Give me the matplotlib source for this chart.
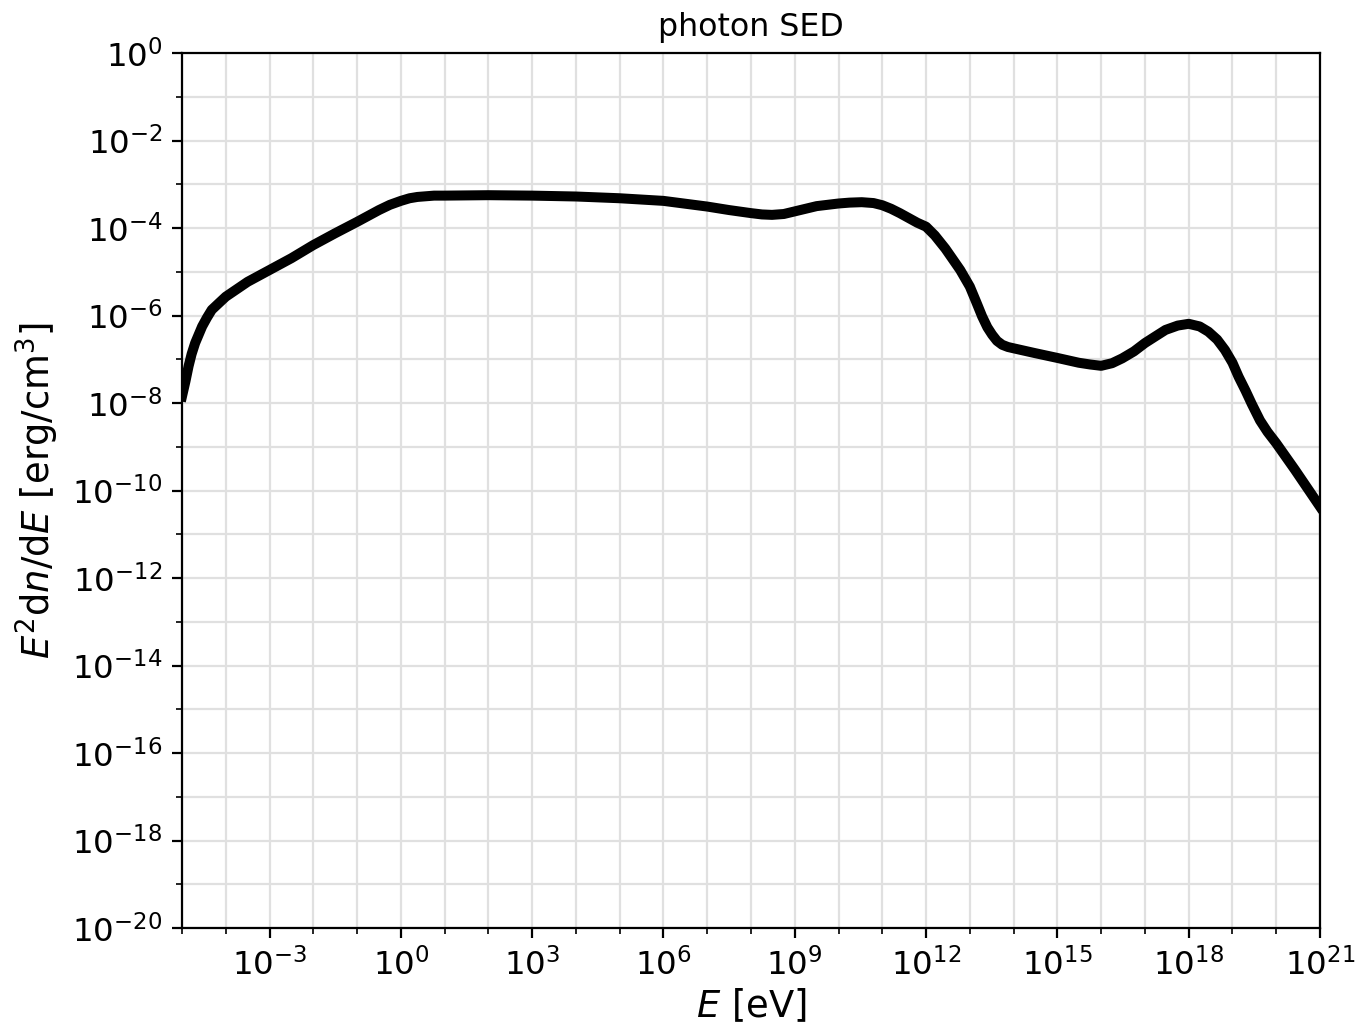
#photon SED (log-log)

#Importing required packages.
import numpy as np
import matplotlib
matplotlib.use("Agg")
import matplotlib.pyplot as plt
from matplotlib.ticker import FixedLocator, NullFormatter, LogFormatterSciNotation

#Curve, log10 of energy [eV] and log10 of E^2 dn/dE [erg/cm^3].
log_E = [-5.0, -4.92, -4.85, -4.78, -4.70, -4.54, -4.43, -4.32, -4.15, -4.0,
         -3.5, -3.0, -2.5, -2.0, -1.5, -1.0, -0.5, -0.25, 0.0, 0.2,
         0.38, 0.76, 1.0, 2.0, 3.0, 4.0, 5.0, 6.0, 7.0, 7.5,
         8.0, 8.25, 8.48, 8.75, 9.0, 9.25, 9.5, 10.0, 10.25, 10.53,
         10.8, 11.0, 11.2, 11.4, 11.6, 11.8, 12.0, 12.2, 12.44, 12.6,
         12.78, 13.0, 13.15, 13.28, 13.4, 13.51, 13.62, 13.74, 13.87, 14.0,
         14.49, 15.0, 15.49, 15.75, 16.0, 16.25, 16.48, 16.75, 17.0, 17.25,
         17.47, 17.75, 18.0, 18.25, 18.45, 18.65, 18.83, 19.0, 19.14, 19.3,
         19.44, 19.63, 19.8, 20.0, 20.43, 21.0]
log_sed = [-7.85, -7.50, -7.16, -6.88, -6.63, -6.25, -6.05, -5.87, -5.71, -5.57,
           -5.23, -4.96, -4.69, -4.39, -4.12, -3.86, -3.59, -3.47, -3.38, -3.32,
           -3.29, -3.26, -3.26, -3.25, -3.26, -3.28, -3.32, -3.38, -3.51, -3.59,
           -3.66, -3.69, -3.70, -3.68, -3.62, -3.56, -3.50, -3.44, -3.42, -3.41,
           -3.43, -3.48, -3.56, -3.66, -3.77, -3.88, -3.97, -4.17, -4.47, -4.70,
           -4.96, -5.34, -5.70, -6.02, -6.27, -6.44, -6.58, -6.67, -6.72, -6.75,
           -6.86, -6.97, -7.08, -7.12, -7.15, -7.09, -6.98, -6.82, -6.63, -6.47,
           -6.33, -6.23, -6.19, -6.25, -6.37, -6.55, -6.79, -7.08, -7.40, -7.72,
           -8.02, -8.40, -8.66, -8.92, -9.53, -10.37]

energy = 10.0 ** np.array(log_E)
sed = 10.0 ** np.array(log_sed)

#Tick positions (decades).
x_major = [-3, 0, 3, 6, 9, 12, 15, 18, 21]
y_major = list(range(-20, 1, 2))

#Figure size chosen to give ~1370x1036 pixels.
fig = plt.figure(figsize=(6.85, 5.18), dpi=200)
ax = fig.add_axes([182 / 1370, 1 - 928 / 1036, (1320 - 182) / 1370, (928 - 53) / 1036])

#Making the plot.
ax.plot(energy, sed, color="black", linewidth=3.6, solid_joinstyle="round")
ax.set_xscale("log")
ax.set_yscale("log")
ax.set_xlim(1e-5, 1e21)
ax.set_ylim(1e-20, 1e0)

#Ticks: labelled majors, unlabelled minors at the other decades.
ax.xaxis.set_major_locator(FixedLocator([10.0 ** d for d in x_major]))
ax.xaxis.set_minor_locator(FixedLocator([10.0 ** d for d in range(-5, 22) if d not in x_major]))
ax.yaxis.set_major_locator(FixedLocator([10.0 ** d for d in y_major]))
ax.yaxis.set_minor_locator(FixedLocator([10.0 ** d for d in range(-20, 1) if d not in y_major]))
ax.xaxis.set_major_formatter(LogFormatterSciNotation())
ax.yaxis.set_major_formatter(LogFormatterSciNotation())
ax.xaxis.set_minor_formatter(NullFormatter())
ax.yaxis.set_minor_formatter(NullFormatter())

#Labels and title.
ax.set_xlabel(r"$E$ [eV]", fontsize=13.3, labelpad=2)
ax.set_ylabel(r"$E^2\mathrm{d}n/\mathrm{d}E$ [erg/cm$^3$]", fontsize=13.3)
ax.set_title("photon SED", fontsize=11.4)
ax.tick_params(labelsize=11.7)

#Setting grid properties.
ax.grid(which="both", color="#e0e0e0", linewidth=0.8)
ax.set_axisbelow(True)

#Figure saved.
fig.savefig("out.png", dpi=200)
